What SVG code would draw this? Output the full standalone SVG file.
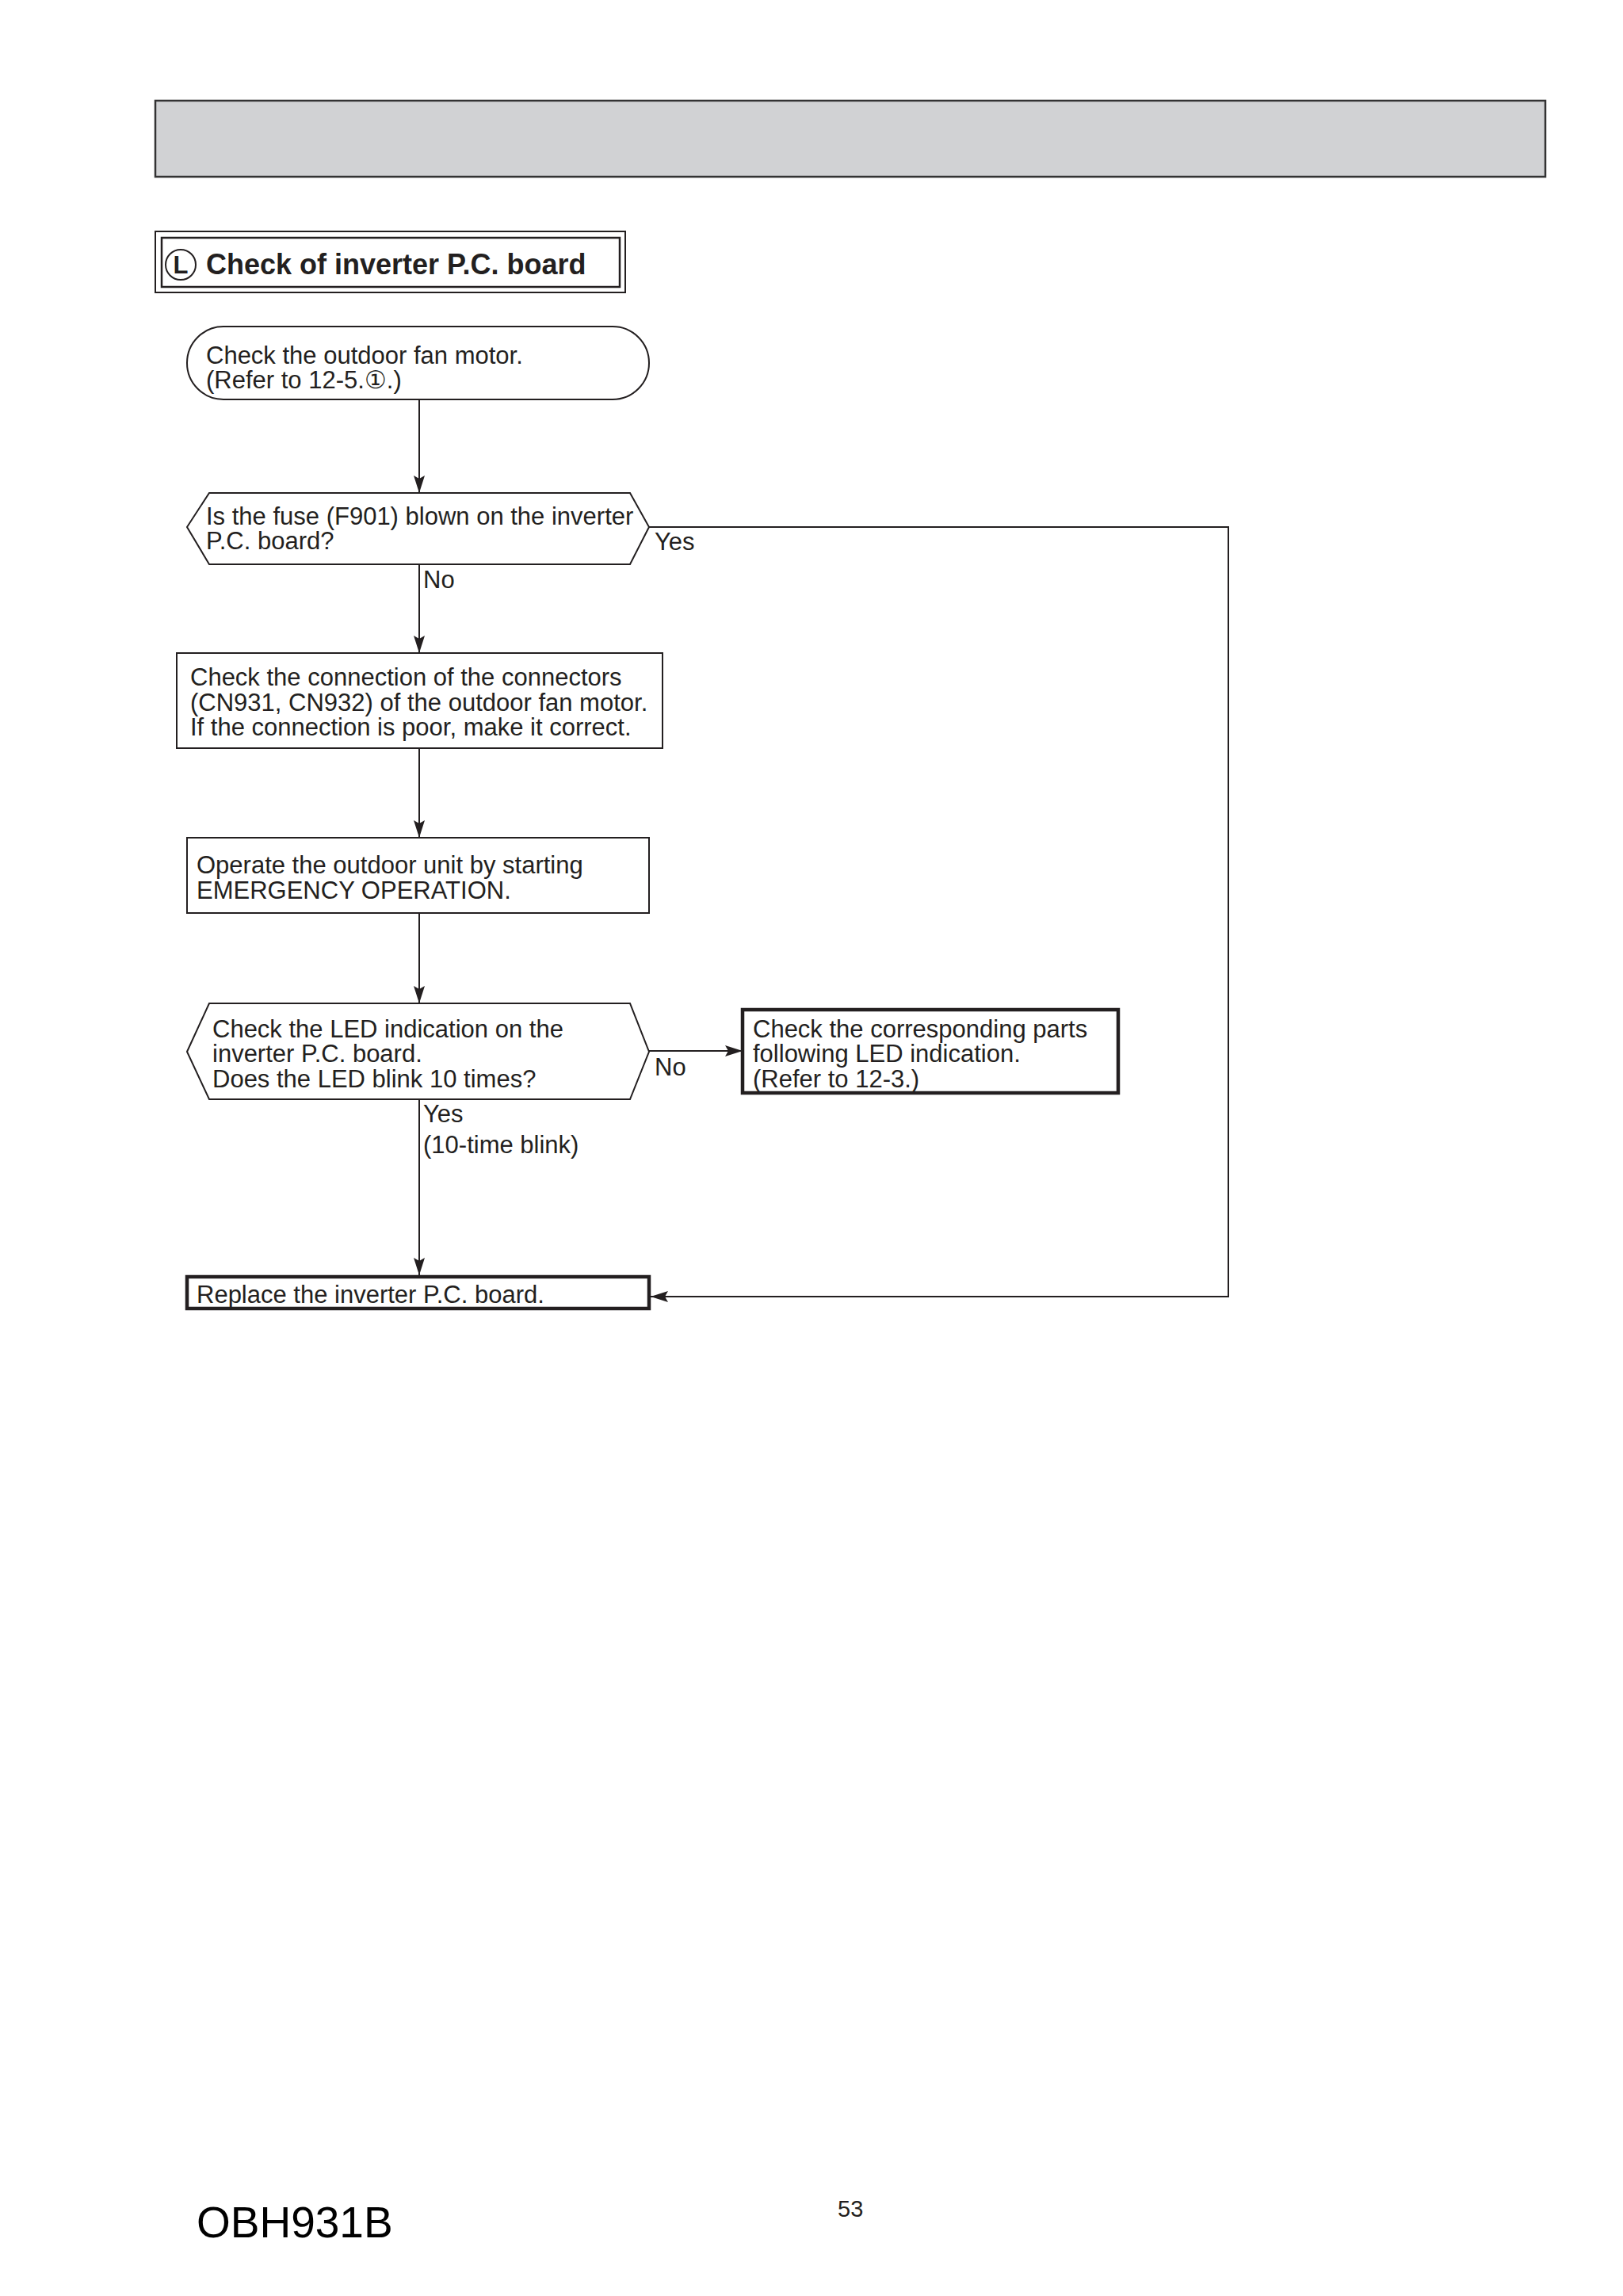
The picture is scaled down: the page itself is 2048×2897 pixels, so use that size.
<svg xmlns="http://www.w3.org/2000/svg" width="2048" height="2897" viewBox="0 0 2048 2897">
<defs>
<style>
.t{font-family:"Liberation Sans",Arial,sans-serif;font-size:31px;fill:#231f20}
.tb{font-family:"Liberation Sans",Arial,sans-serif;font-weight:bold;fill:#231f20}
.n{fill:#fff;stroke:#231f20;stroke-width:2}
.nk{fill:#fff;stroke:#231f20;stroke-width:4.5}
.c{fill:none;stroke:#231f20;stroke-width:2}
</style>
<marker id="ah" markerUnits="userSpaceOnUse" markerWidth="22" markerHeight="14" refX="22" refY="7" orient="auto">
<path d="M0,0 L22,7 L0,14 L4,7 z" fill="#231f20"/>
</marker>
</defs>
<rect width="2048" height="2897" fill="#fff"/>
<g id="header">
<rect x="196" y="127" width="1754" height="96" fill="#d1d2d4" stroke="#333" stroke-width="2.5"/>
</g>
<g id="title">
<rect x="196" y="292" width="593" height="77" fill="#fff" stroke="#231f20" stroke-width="2"/>
<rect x="204" y="300" width="578" height="62" fill="#fff" stroke="#231f20" stroke-width="2.5"/>
<circle cx="228" cy="334" r="19" fill="none" stroke="#231f20" stroke-width="2"/>
<text class="tb" x="228" y="345" font-size="31" text-anchor="middle">L</text>
<text class="tb" x="260" y="346" font-size="36">Check of inverter P.C. board</text>
</g>
<g id="connectors">
<line class="c" x1="529" y1="504" x2="529" y2="622" marker-end="url(#ah)"/>
<line class="c" x1="529" y1="712" x2="529" y2="824" marker-end="url(#ah)"/>
<polyline class="c" points="819,665 1550,665 1550,1636 821,1636" marker-end="url(#ah)"/>
<line class="c" x1="529" y1="944" x2="529" y2="1057" marker-end="url(#ah)"/>
<line class="c" x1="529" y1="1152" x2="529" y2="1266" marker-end="url(#ah)"/>
<line class="c" x1="819" y1="1326" x2="937" y2="1326" marker-end="url(#ah)"/>
<line class="c" x1="529" y1="1387" x2="529" y2="1609" marker-end="url(#ah)"/>
<text class="t" x="826" y="694">Yes</text>
<text class="t" x="534" y="742">No</text>
<text class="t" x="826" y="1357">No</text>
<text class="t" x="534" y="1416">Yes</text>
<text class="t" x="534" y="1455">(10-time blink)</text>
</g>
<g id="start">
<rect class="n" x="236" y="412" width="583" height="92" rx="46" ry="46"/>
<text class="t" x="260" y="459">Check the outdoor fan motor.</text>
<text class="t" x="260" y="490">(Refer to 12-5.①.)</text>
</g>
<g id="fuse">
<polygon class="n" points="236,665 264,622 795,622 819,665 795,712 264,712"/>
<text class="t" x="260" y="662">Is the fuse (F901) blown on the inverter</text>
<text class="t" x="260" y="693">P.C. board?</text>
</g>
<g id="connectors_check">
<rect class="n" x="223" y="824" width="613" height="120"/>
<text class="t" x="240" y="865">Check the connection of the connectors</text>
<text class="t" x="240" y="897">(CN931, CN932) of the outdoor fan motor.</text>
<text class="t" x="240" y="928">If the connection is poor, make it correct.</text>
</g>
<g id="operate">
<rect class="n" x="236" y="1057" width="583" height="95"/>
<text class="t" x="248" y="1102">Operate the outdoor unit by starting</text>
<text class="t" x="248" y="1134">EMERGENCY OPERATION.</text>
</g>
<g id="led">
<polygon class="n" points="236,1327 264,1266 795,1266 819,1327 795,1387 264,1387"/>
<text class="t" x="268" y="1309">Check the LED indication on the</text>
<text class="t" x="268" y="1340">inverter P.C. board.</text>
<text class="t" x="268" y="1372">Does the LED blink 10 times?</text>
</g>
<g id="parts">
<rect class="nk" x="937" y="1274" width="474" height="105"/>
<text class="t" x="950" y="1309">Check the corresponding parts</text>
<text class="t" x="950" y="1340">following LED indication.</text>
<text class="t" x="950" y="1372">(Refer to 12-3.)</text>
</g>
<g id="replace">
<rect class="nk" x="236" y="1611" width="583" height="40"/>
<text class="t" x="248" y="1644">Replace the inverter P.C. board.</text>
</g>
<g id="footer">
<text x="248" y="2823" font-family="Liberation Sans, Arial, sans-serif" font-size="55" fill="#000">OBH931B</text>
<text x="1057" y="2797" font-family="Liberation Sans, Arial, sans-serif" font-size="29" fill="#231f20">53</text>
</g>
</svg>
